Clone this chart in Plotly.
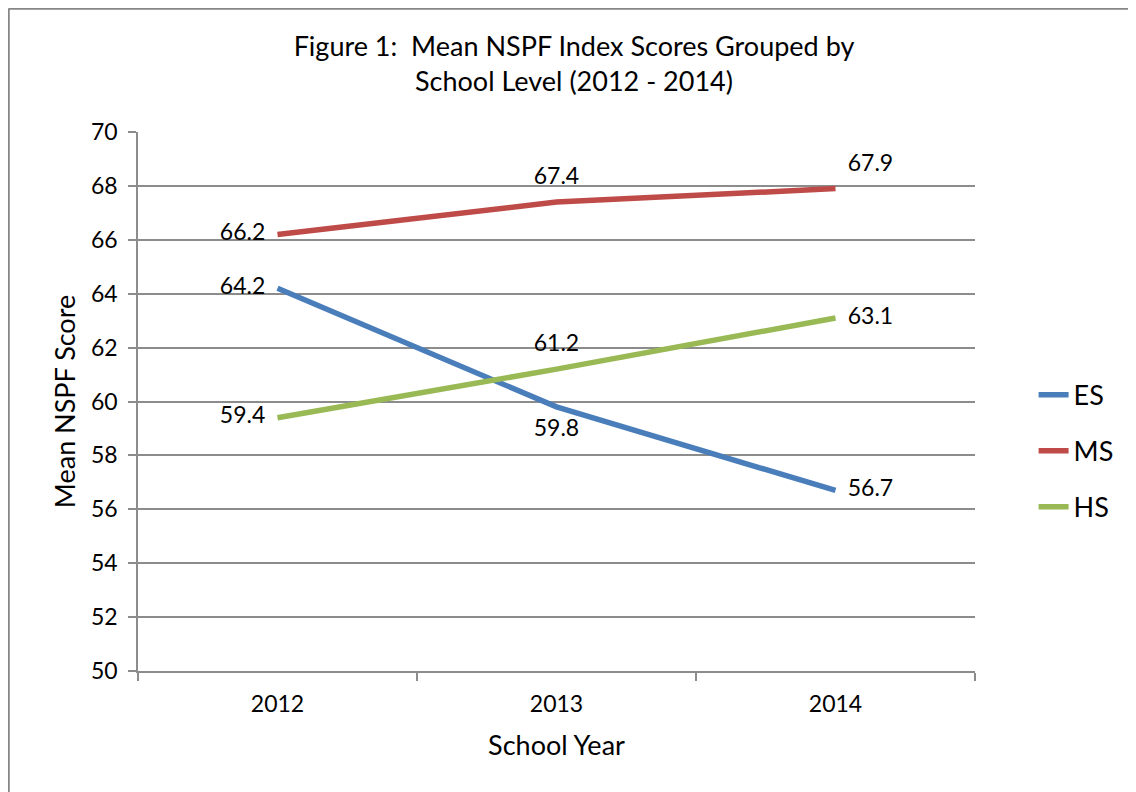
import plotly.graph_objects as go

years = ["2012", "2013", "2014"]
es_scores = [64.2, 59.8, 56.7]
ms_scores = [66.2, 67.4, 67.9]
hs_scores = [59.4, 61.2, 63.1]

FONT = "Lato, 'Open Sans', sans-serif"
GRID = "#8c8c8c"

series = [
    ("ES", es_scores, "#4a7ebb", ["middle left", "bottom center", "middle right"]),
    ("MS", ms_scores, "#be4b48", ["middle left", "top center", "top right"]),
    ("HS", hs_scores, "#98b954", ["middle left", "top center", "middle right"]),
]

fig = go.Figure()
for name, scores, color, positions in series:
    fig.add_trace(
        go.Scatter(
            x=years,
            y=scores,
            mode="lines+markers+text",
            name=name,
            legendgroup=name,
            text=[f"{v:.1f}" for v in scores],
            textposition=positions,
            textfont=dict(size=23, color="black", family=FONT),
            # invisible markers just push the value labels away from the line
            marker=dict(size=18, color="rgba(0,0,0,0)"),
            line=dict(color=color, width=5.5),
            cliponaxis=False,
        )
    )

# page body has an 8px margin, so plot area (in div pixels) is x 130..967, y 124..663
left_px, top_px = 0.5, 0.5
fig.update_layout(
    width=1128,
    height=784,
    margin=dict(l=130, r=161, t=124, b=121),
    paper_bgcolor="white",
    plot_bgcolor="white",
    font=dict(family=FONT, size=23, color="black"),
    title=dict(
        text="Figure 1:  Mean NSPF Index Scores Grouped by<br>School Level (2012 - 2014)",
        x=566 / 1128,
        xanchor="center",
        y=1 - 48 / 784,
        yanchor="top",
        font=dict(size=27, family=FONT),
    ),
    xaxis=dict(
        type="category",
        range=[-0.5, 2.5],
        tickson="boundaries",
        ticks="outside",
        ticklen=8,
        tickwidth=1.5,
        tickcolor=GRID,
        ticklabelstandoff=12,
        showline=True,
        linecolor=GRID,
        linewidth=1.5,
        showgrid=False,
        tickfont=dict(size=23),
        title=dict(text="School Year", font=dict(size=27), standoff=20),
    ),
    yaxis=dict(
        range=[50, 70],
        dtick=2,
        ticks="outside",
        ticklen=8,
        tickwidth=1.5,
        tickcolor=GRID,
        ticklabelstandoff=6,
        showline=True,
        linecolor=GRID,
        linewidth=1.5,
        showgrid=True,
        gridcolor=GRID,
        gridwidth=1.5,
        zeroline=False,
        tickfont=dict(size=23),
        title=dict(text="Mean NSPF Score", font=dict(size=27), standoff=8),
    ),
    legend=dict(
        x=1.07,
        xanchor="left",
        y=0.408,
        yanchor="middle",
        font=dict(size=27),
        tracegroupgap=18,
        bgcolor="rgba(0,0,0,0)",
    ),
    shapes=[
        # chart-area border: only top and left edges fall inside the window
        dict(
            type="line",
            xref="paper",
            yref="paper",
            x0=(left_px - 130) / 837,
            x1=(1128 - 130) / 837,
            y0=(663 - top_px) / 539,
            y1=(663 - top_px) / 539,
            line=dict(color="#868686", width=2.5),
            layer="below",
        ),
        dict(
            type="line",
            xref="paper",
            yref="paper",
            x0=(left_px - 130) / 837,
            x1=(left_px - 130) / 837,
            y0=(663 - 784) / 539,
            y1=(663 - top_px) / 539,
            line=dict(color="#868686", width=2.5),
            layer="below",
        ),
    ],
)

fig.write_html("out.html")
